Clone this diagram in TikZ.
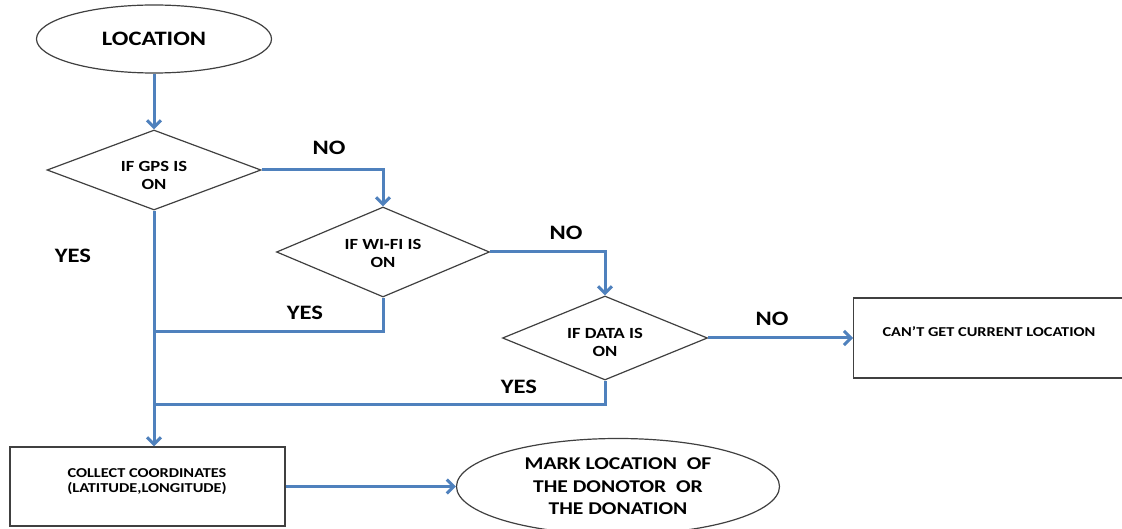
\documentclass[tikz,border=0pt]{standalone}
\usepackage{fontspec}
\setmainfont[FakeStretch=1.2]{Carlito}
\usetikzlibrary{shapes.geometric,arrows.meta}
\definecolor{flowblue}{HTML}{4F81BD}
\definecolor{edgegray}{HTML}{404040}
\begin{document}
\begin{tikzpicture}[x=1pt,y=-1pt,
  term/.style={shape=ellipse, draw=edgegray, line width=1.2pt, inner sep=0pt, align=center},
  dec/.style={shape=diamond, draw=edgegray, line width=1.2pt, inner sep=0pt},
  dectext/.style={align=center, inner sep=0pt, font=\bfseries\fontsize{15.5}{18}\selectfont},
  box/.style={shape=rectangle, draw=edgegray, line width=1.2pt, inner sep=0pt},
  boxtext/.style={font=\bfseries\fontsize{13.6}{15.5}\selectfont, align=center, inner sep=0pt},
  flow/.style={draw=flowblue, line width=3pt, -{Straight Barb[length=7pt,width=14pt]}},
  link/.style={draw=flowblue, line width=3pt},
  lbl/.style={font=\bfseries\fontsize{20.5}{24}\selectfont}]
\useasboundingbox (0,0) rectangle (1122,529);
\clip (0,0) rectangle (1122,529);
\fill[white] (0,0) rectangle (1122,529);

\node[term, minimum width=235pt, minimum height=68pt, font=\bfseries\fontsize{20.5}{24}\selectfont] (loc) at (154,39) {LOCATION};
\node[dec, minimum width=214pt, minimum height=80pt] (gps) at (154,170) {};
\node[dectext] (gpstext) at (154,175.5) {IF GPS IS\\ON};
\node[dec, minimum width=213pt, minimum height=90pt] (wifi) at (383,252) {};
\node[dectext] (wifitext) at (383,253.5) {IF WI-FI IS\\ON};
\node[dec, minimum width=205pt, minimum height=84pt] (data) at (605,338) {};
\node[dectext] (datatext) at (605,342.5) {IF DATA IS\\ON};
\node[box, minimum width=275pt, minimum height=80pt, anchor=west] (cant) at (853,338) {};
\node[boxtext] (canttext) at (989,331.5) {CAN'T GET CURRENT LOCATION};
\node[box, minimum width=275pt, minimum height=79pt] (collect) at (147.5,486.5) {};
\node[boxtext] (collecttext) at (147,481.5) {COLLECT COORDINATES\\(LATITUDE,LONGITUDE)};
\node[term, minimum width=323pt, minimum height=96pt, font=\bfseries\fontsize{18}{22.5}\selectfont] (mark) at (618,486.5) {MARK LOCATION\ \ OF\\THE DONOTOR\ \ OR\\THE DONATION};

\coordinate (j1) at (154,332);
\coordinate (j2) at (154,404);

\draw[flow] (loc) -- (gps);
\draw[flow] (gps.east) -| (wifi.north);
\draw[flow] (wifi.east) -| (data.north);
\draw[flow] (data.east) -- (cant.west);
\draw[flow] (gps.south) -- (gps.south |- collect.north);
\draw[link] (wifi.south) |- (j1);
\draw[link] (data.south) |- (j2);
\draw[flow] (collect.east) -- (mark.west);

\node[lbl] (no1) at (329,148) {NO};
\node[lbl] (no2) at (566,233) {NO};
\node[lbl] (no3) at (772,319) {NO};
\node[lbl] (yes1) at (73,256) {YES};
\node[lbl] (yes2) at (305,313) {YES};
\node[lbl] (yes3) at (519,387) {YES};
\end{tikzpicture}
\end{document}
